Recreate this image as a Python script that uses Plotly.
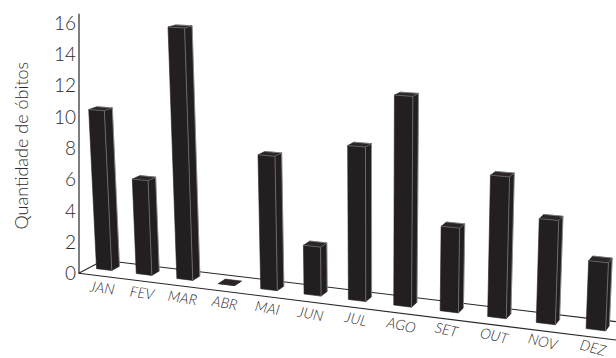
import numpy as np
import plotly.graph_objects as go

# Monthly death counts
months = ["JAN", "FEV", "MAR", "ABR", "MAI", "JUN", "JUL", "AGO", "SET", "OUT", "NOV", "DEZ"]
deaths = [10.1, 6.0, 15.4, 0, 8.2, 3.0, 9.2, 12.3, 5.0, 8.2, 6.0, 3.9]
value_ticks = [0, 2, 4, 6, 8, 10, 12, 14, 16]

# Perspective camera: maps (month position, depth, value) onto the drawing plane
CAM_X = [7.876563e+01, 3.863620e+01, 2.743959e+01, -1.023285e+00]
CAM_Y = [2.732735e+02, 1.968462e+00, -5.807809e+00, -1.620430e+01]
CAM_W = [1.0, -1.073868e-02, 2.785347e-02, -2.721526e-03]
BAR_OFFSET, BAR_WIDTH, BAR_FRONT, BAR_BACK = 0.1882999, 0.3858192, 0.4168784, 0.7363133
FLOOR_END_FRONT, FLOOR_END_BACK = 11.87229, 11.64351

# Vertical scale of the value axis
Y_ZERO = 273.7
Y_UNIT = 15.66


def project(m, z, v):
    h = np.array([1.0, m, z, v])
    w = np.dot(CAM_W, h)
    px = np.dot(CAM_X, h) / w
    py = np.dot(CAM_Y, h) / w
    return px, (Y_ZERO - py) / Y_UNIT


def path(*corners):
    pts = [project(*c) for c in corners]
    return [p[0] for p in pts], [p[1] for p in pts]


fig = go.Figure()


def polygon(corners, fill, edge=None, width=0.6):
    xs, ys = path(*corners)
    fig.add_trace(go.Scatter(
        x=xs + xs[:1], y=ys + ys[:1], mode="lines", fill="toself",
        fillcolor=fill, line=dict(color=edge or fill, width=width),
        hoverinfo="skip", showlegend=False))


def stroke(corners, color, width=1.0):
    xs, ys = path(*corners)
    fig.add_trace(go.Scatter(
        x=xs, y=ys, mode="lines", line=dict(color=color, width=width),
        hoverinfo="skip", showlegend=False))


# Floor outline
FLOOR_COLOR = "#2a2627"
stroke([(0, 0, 0), (FLOOR_END_FRONT, 0, 0)], FLOOR_COLOR, 1.1)
stroke([(0, 1, 0), (FLOOR_END_BACK, 1, 0)], FLOOR_COLOR, 1.1)
stroke([(0, 0, 0), (0, 1, 0)], FLOOR_COLOR, 1.1)

# Value axis line
fig.add_trace(go.Scatter(
    x=[79, 79], y=[0, 16.6], mode="lines", line=dict(color="#2a2627", width=1.2),
    hoverinfo="skip", showlegend=False))

# Bars: front, side and top faces with lighter edges
BAR = "#231f20"
for i, v in enumerate(deaths):
    x0 = i + BAR_OFFSET
    x1 = x0 + BAR_WIDTH
    zf, zb = BAR_FRONT, BAR_BACK
    polygon([(x0, zf, 0), (x1, zf, 0), (x1, zf, v), (x0, zf, v)], BAR)
    polygon([(x1, zf, 0), (x1, zb, 0), (x1, zb, v), (x1, zf, v)], BAR)
    polygon([(x0, zf, v), (x1, zf, v), (x1, zb, v), (x0, zb, v)], "#2b2728")
    if v > 0:
        stroke([(x1, zf, 0), (x1, zf, v)], "#7d7b7c", 0.8)
        stroke([(x1, zb, 0), (x1, zb, v)], "#b5b3b4", 0.6)
        stroke([(x0, zf, v), (x1, zf, v), (x1, zb, v)], "#6f6d6e", 0.8)
        stroke([(x0, zb, v), (x1, zb, v)], "#8f8d8e", 0.6)

FONT = "Lato"
TEXT = "#2f2b2c"

# Month labels hang under each bar, tilted along the floor
annotations = []
for i, name in enumerate(months):
    px, vy = project(i + BAR_OFFSET + BAR_WIDTH / 2, BAR_FRONT, 0)
    annotations.append(dict(
        x=px - 2, y=vy - 18 / Y_UNIT, xref="x", yref="y", text=name, showarrow=False,
        textangle=8 + 0.6 * i, xanchor="center", yanchor="middle",
        font=dict(family=FONT, size=14.5, color=TEXT, weight=300, style="italic")))

annotations.append(dict(
    x=20, y=(Y_ZERO - 145.5) / Y_UNIT, xref="x", yref="y",
    text="Quantidade de óbitos", showarrow=False, textangle=-90,
    font=dict(family=FONT, size=18, color=TEXT, weight=300)))

fig.update_layout(
    width=616, height=358, autosize=False,
    margin=dict(l=0, r=0, t=0, b=0),
    paper_bgcolor="white", plot_bgcolor="white",
    showlegend=False,
    annotations=annotations,
    xaxis=dict(range=[0, 616], visible=False, fixedrange=True),
    yaxis=dict(
        range=[(Y_ZERO - 358) / Y_UNIT, Y_ZERO / Y_UNIT],
        tickmode="array", tickvals=value_ticks, ticktext=[str(t) for t in value_ticks],
        showgrid=False, zeroline=False, showline=False, ticks="",
        anchor="free", position=79 / 616, fixedrange=True, ticklabelstandoff=3,
        tickfont=dict(family=FONT, size=19, color=TEXT, weight=300)),
)

fig.write_html("out.html", config=dict(displayModeBar=False))
